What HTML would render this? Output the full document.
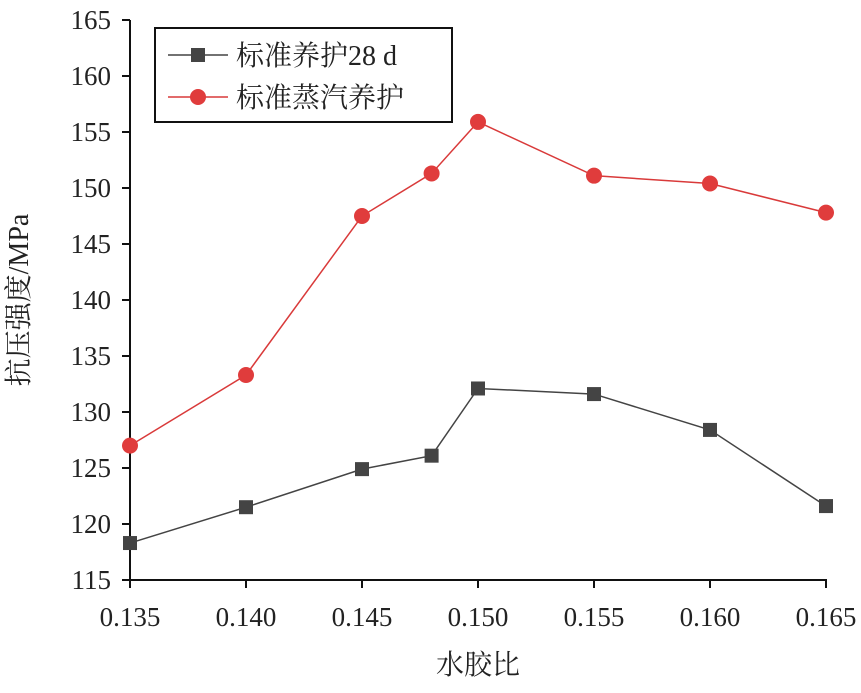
<!DOCTYPE html>
<html><head><meta charset="utf-8"><style>
body{margin:0;background:#fff}
svg text{font-family:"Liberation Serif","Noto Serif CJK SC","Noto Sans CJK SC",serif;fill:#222}
</style></head><body>
<svg width="861" height="688" viewBox="0 0 861 688" xmlns="http://www.w3.org/2000/svg">
<g id="axes"></g><g id="series"></g>
<g>
<rect x="155" y="28" width="297" height="94" fill="#fff" stroke="#111" stroke-width="2"/>
<line x1="168" y1="55" x2="228" y2="55" stroke="#444" stroke-width="1.5"/>
<rect x="191" y="48" width="14" height="14" fill="#444"/>
<text x="236" y="65" font-size="28">标准养护28 d</text>
<line x1="168" y1="97" x2="228" y2="97" stroke="#d93a3a" stroke-width="1.5"/>
<circle cx="198" cy="97" r="8" fill="#e03c3c"/>
<text x="236" y="107" font-size="28">标准蒸汽养护</text>
</g>
<text transform="translate(28,300) rotate(-90)" text-anchor="middle" font-size="28">抗压强度/MPa</text>
<text x="478" y="674" text-anchor="middle" font-size="28">水胶比</text>
</svg>
<script>
const xCats=[0.135,0.140,0.145,0.148,0.150,0.155,0.160,0.165];
const std28=[118.3,121.5,124.9,126.1,132.1,131.6,128.4,121.6];
const steam=[127.0,133.3,147.5,151.3,155.9,151.1,150.4,147.8];
const xTicks=[0.135,0.140,0.145,0.150,0.155,0.160,0.165];
const yTicks=[115,120,125,130,135,140,145,150,155,160,165];
const NS="http://www.w3.org/2000/svg";
const X=v=>130+(v-0.135)/0.005*116;
const Y=v=>580-(v-115)*11.2;
function mk(t,a,p){const e=document.createElementNS(NS,t);for(const k in a)e.setAttribute(k,a[k]);p.appendChild(e);return e;}
const ax=document.getElementById('axes');
let e=mk('line',{x1:130,y1:20,x2:130,y2:581,stroke:'#111','stroke-width':2},ax);


e=mk('line',{x1:129,y1:580,x2:827,y2:580,stroke:'#111','stroke-width':2},ax);


yTicks.forEach(v=>{mk('line',{x1:122,y1:Y(v),x2:130,y2:Y(v),stroke:'#111','stroke-width':2},ax);
const t=mk('text',{x:111,y:Y(v)+9,'text-anchor':'end','font-size':27},ax);t.textContent=v;

});
xTicks.forEach(v=>{mk('line',{x1:X(v),y1:580,x2:X(v),y2:588,stroke:'#111','stroke-width':2},ax);
const t=mk('text',{x:X(v),y:626,'text-anchor':'middle','font-size':27},ax);t.textContent=v.toFixed(3);

});
const sg=document.getElementById('series');
function line(vals,col){const p=mk('polyline',{points:vals.map((v,i)=>X(xCats[i])+','+Y(v)).join(' '),fill:'none',stroke:col,'stroke-width':1.5},sg);return p;}
let l=line(std28,'#444');


l=line(steam,'#d93a3a');


std28.forEach((v,i)=>{const r=mk('rect',{x:X(xCats[i])-7,y:Y(v)-7,width:14,height:14,fill:'#444'},sg);

});
steam.forEach((v,i)=>{const c=mk('circle',{cx:X(xCats[i]),cy:Y(v),r:8,fill:'#e03c3c'},sg);

});
</script>
</body></html>
